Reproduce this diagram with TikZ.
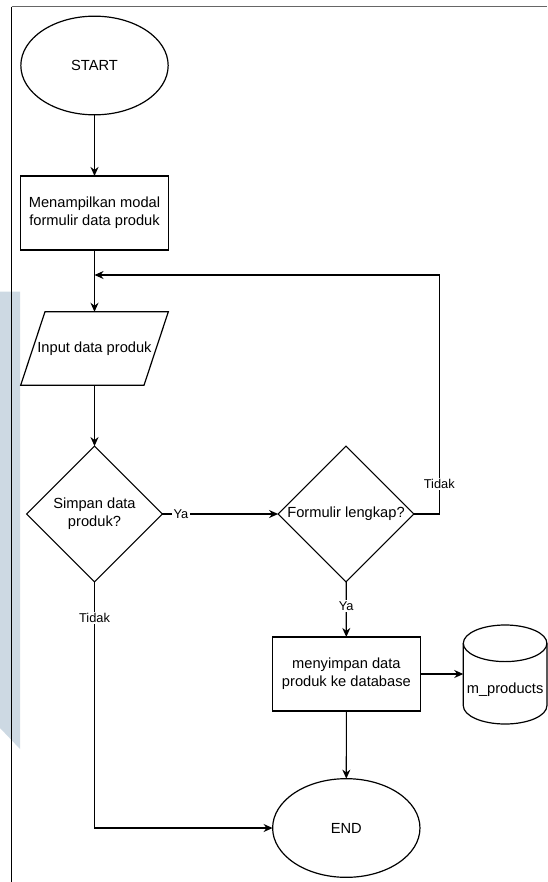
\documentclass[tikz,border=0pt]{standalone}
\usepackage{fontspec}
\setmainfont{Liberation Sans}
\usetikzlibrary{shapes.geometric,arrows.meta,positioning}

\definecolor{wmark}{RGB}{205,217,227}

\tikzset{
  flow/.style={-{Stealth[length=6.8pt,width=6pt]}, line width=0.9pt},
  terminal/.style={ellipse, draw=black, line width=0.9pt, minimum width=110.5pt, minimum height=74pt},
  process/.style={rectangle, draw=black, line width=0.9pt, align=center, minimum width=111pt, minimum height=55.5pt},
  inputbox/.style={rectangle, minimum width=110.7pt, minimum height=55pt},
  decision/.style={diamond, draw=black, line width=0.9pt, minimum width=101.8pt, minimum height=101.8pt},
  lbl/.style={fill=white, inner sep=1pt, font=\fontsize{9.6}{11}\selectfont}
}

\begin{document}
\begin{tikzpicture}[x=0.75pt, y=-0.75pt, inner sep=0, outer sep=0,
    font=\fontsize{11}{13.7}\selectfont]
  \useasboundingbox (0,0) rectangle (547,882);

  % page background
  \fill[wmark] (0,291.7) -- (20,291.7) -- (20,749) -- (0,728) -- cycle;
  \draw[gray!80!black, line width=0.9pt] (11.7,6.7) -- (547,6.7);
  \draw[black, line width=0.8pt] (11.7,6.7) -- (11.7,882);

  \node[terminal] (start) at (94.5,65.5) {START};
  \node[process] (modal) at (94.5,213) {Menampilkan modal\\formulir data produk};
  \node[inputbox] (input) at (94.5,348.5) {Input data produk};
  % parallelogram
  \draw[line width=0.9pt] ([xshift=18.2pt]input.north west) -- (input.north east)
    -- ([xshift=-18.2pt]input.south east) -- (input.south west) -- cycle;
  \node[decision, label={[align=center]center:{Simpan data\\produk?}}] (simpan) at (94.5,514) {};
  \node[decision, label={center:{Formulir lengkap?}}] (lengkap) at (346,514) {};
  \node[process] (save) at (346.4,674) {menyimpan data\\produk ke database};
  \node[terminal] (end) at (346.3,828) {END};

  % m_products cylinder
  \draw[line width=0.9pt, fill=white] (463.3,643.3) -- (463.3,705.7)
    arc[start angle=180, end angle=0, x radius=41.8, y radius=18.3] -- (547,643.3);
  \draw[line width=0.9pt] (505.1,643.3) ellipse[x radius=41.8, y radius=18.3];
  \node (db) at (505.1,690) {m\_products};
  \coordinate (dbin) at (463.3,674);

  \coordinate (merge) at (94.5,275);
  \coordinate (loop) at (439.3,275);

  \draw[flow] (start) -- (modal);
  \draw[flow] (modal) -- (input);
  \draw[flow] (input) -- (simpan);
  \draw[flow] (simpan) -- node[lbl, pos=0.16] {Ya} (lengkap);
  \draw[flow] (lengkap.east) -| node[lbl, pos=0.563] {Tidak} (loop) -- (merge);
  \draw[flow] (lengkap) -- node[lbl, pos=0.44] {Ya} (save);
  \draw[flow] (simpan.south) |- node[lbl, pos=0.074] {Tidak} (end.west);
  \draw[flow] (save) -- (end);
  \draw[flow] (save.east) -- (dbin);
\end{tikzpicture}
\end{document}
